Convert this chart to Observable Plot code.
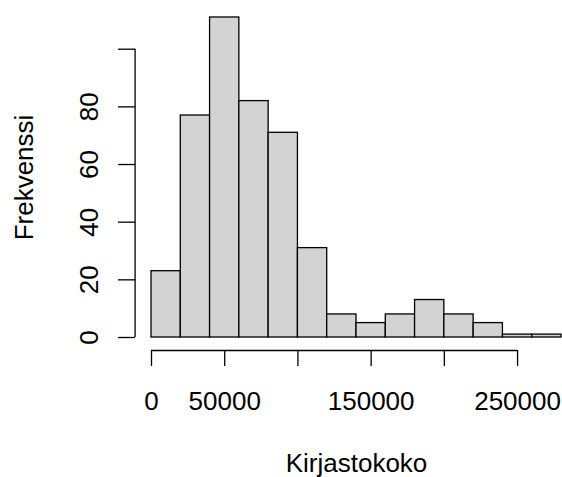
<!DOCTYPE html>
<html>
<head>
<meta charset="utf-8">
<script src="https://cdn.jsdelivr.net/npm/d3@7"></script>
<script src="https://cdn.jsdelivr.net/npm/@observablehq/plot@0.6"></script>
<style>
  html, body { margin: 0; padding: 0; background: #fff; }
  #chart { width: 562px; height: 477px; }
</style>
</head>
<body>
<div id="chart"></div>
<script>
// Histogram data: bin edges and frequencies
const breaks = [0, 20000, 40000, 60000, 80000, 100000, 120000, 140000, 160000, 180000, 200000, 220000, 240000, 260000, 280000];
const counts = [23, 77, 111, 82, 71, 31, 8, 5, 8, 13, 8, 5, 1, 1];

const xTicks = [0, 50000, 100000, 150000, 200000, 250000];
const xTickLabels = [0, 50000, 150000, 250000];
const yTicks = [0, 20, 40, 60, 80, 100];
const yTickLabels = [0, 20, 40, 60, 80];

const xLabel = "Kirjastokoko";
const yLabel = "Frekvenssi";

const bins = counts.map((c, i) => ({x1: breaks[i], x2: breaks[i + 1], count: c}));

const FS = 26;

const chart = Plot.plot({
  width: 562,
  height: 477,
  marginLeft: 135,
  marginBottom: 127,
  marginTop: 0,
  marginRight: 0,
  style: {fontFamily: "Liberation Sans, Arial, sans-serif", background: "#fff", color: "black"},
  x: {domain: [0, 280000], range: [151, 561], axis: null, label: null},
  y: {domain: [0, 100], range: [337, 48.7], axis: null, label: null},
  marks: [
    Plot.rectY(bins, {x1: "x1", x2: "x2", y: "count", fill: "#d3d3d3", stroke: "#000", strokeWidth: 1.3}),
    // x axis line and ticks
    Plot.ruleY([0], {x1: xTicks[0], x2: xTicks[xTicks.length - 1], dy: 13, strokeWidth: 1.3}),
    Plot.axisX({ticks: xTicks, tickSize: 16, tickFormat: () => "", strokeWidth: 1.3, label: null}),
    Plot.axisX({ticks: xTickLabels, tickSize: 0, tickPadding: 41, tickFormat: d => String(d), fontSize: FS, fill: "#000", label: null}),
    // y axis line and ticks
    Plot.ruleX([0], {y1: yTicks[0], y2: yTicks[yTicks.length - 1], dx: -16.4, strokeWidth: 1.3}),
    Plot.axisY({ticks: yTicks, tickSize: 17, tickFormat: () => "", strokeWidth: 1.3, label: null}),
    Plot.axisY({ticks: yTickLabels, tickSize: 0, tickPadding: 38, tickRotate: -90, tickFormat: d => String(d), fontSize: FS, fill: "#000", label: null}),
    // axis titles
    Plot.text([xLabel], {x: 140000, frameAnchor: "bottom", textAnchor: "middle", lineAnchor: "bottom", dy: 121, fontSize: FS, fill: "#000"}),
    Plot.text([yLabel], {y: 55.5, frameAnchor: "left", textAnchor: "middle", lineAnchor: "bottom", rotate: -90, dx: -103, fontSize: FS, fill: "#000"})
  ]
});

document.getElementById("chart").appendChild(chart);
</script>
</body>
</html>
